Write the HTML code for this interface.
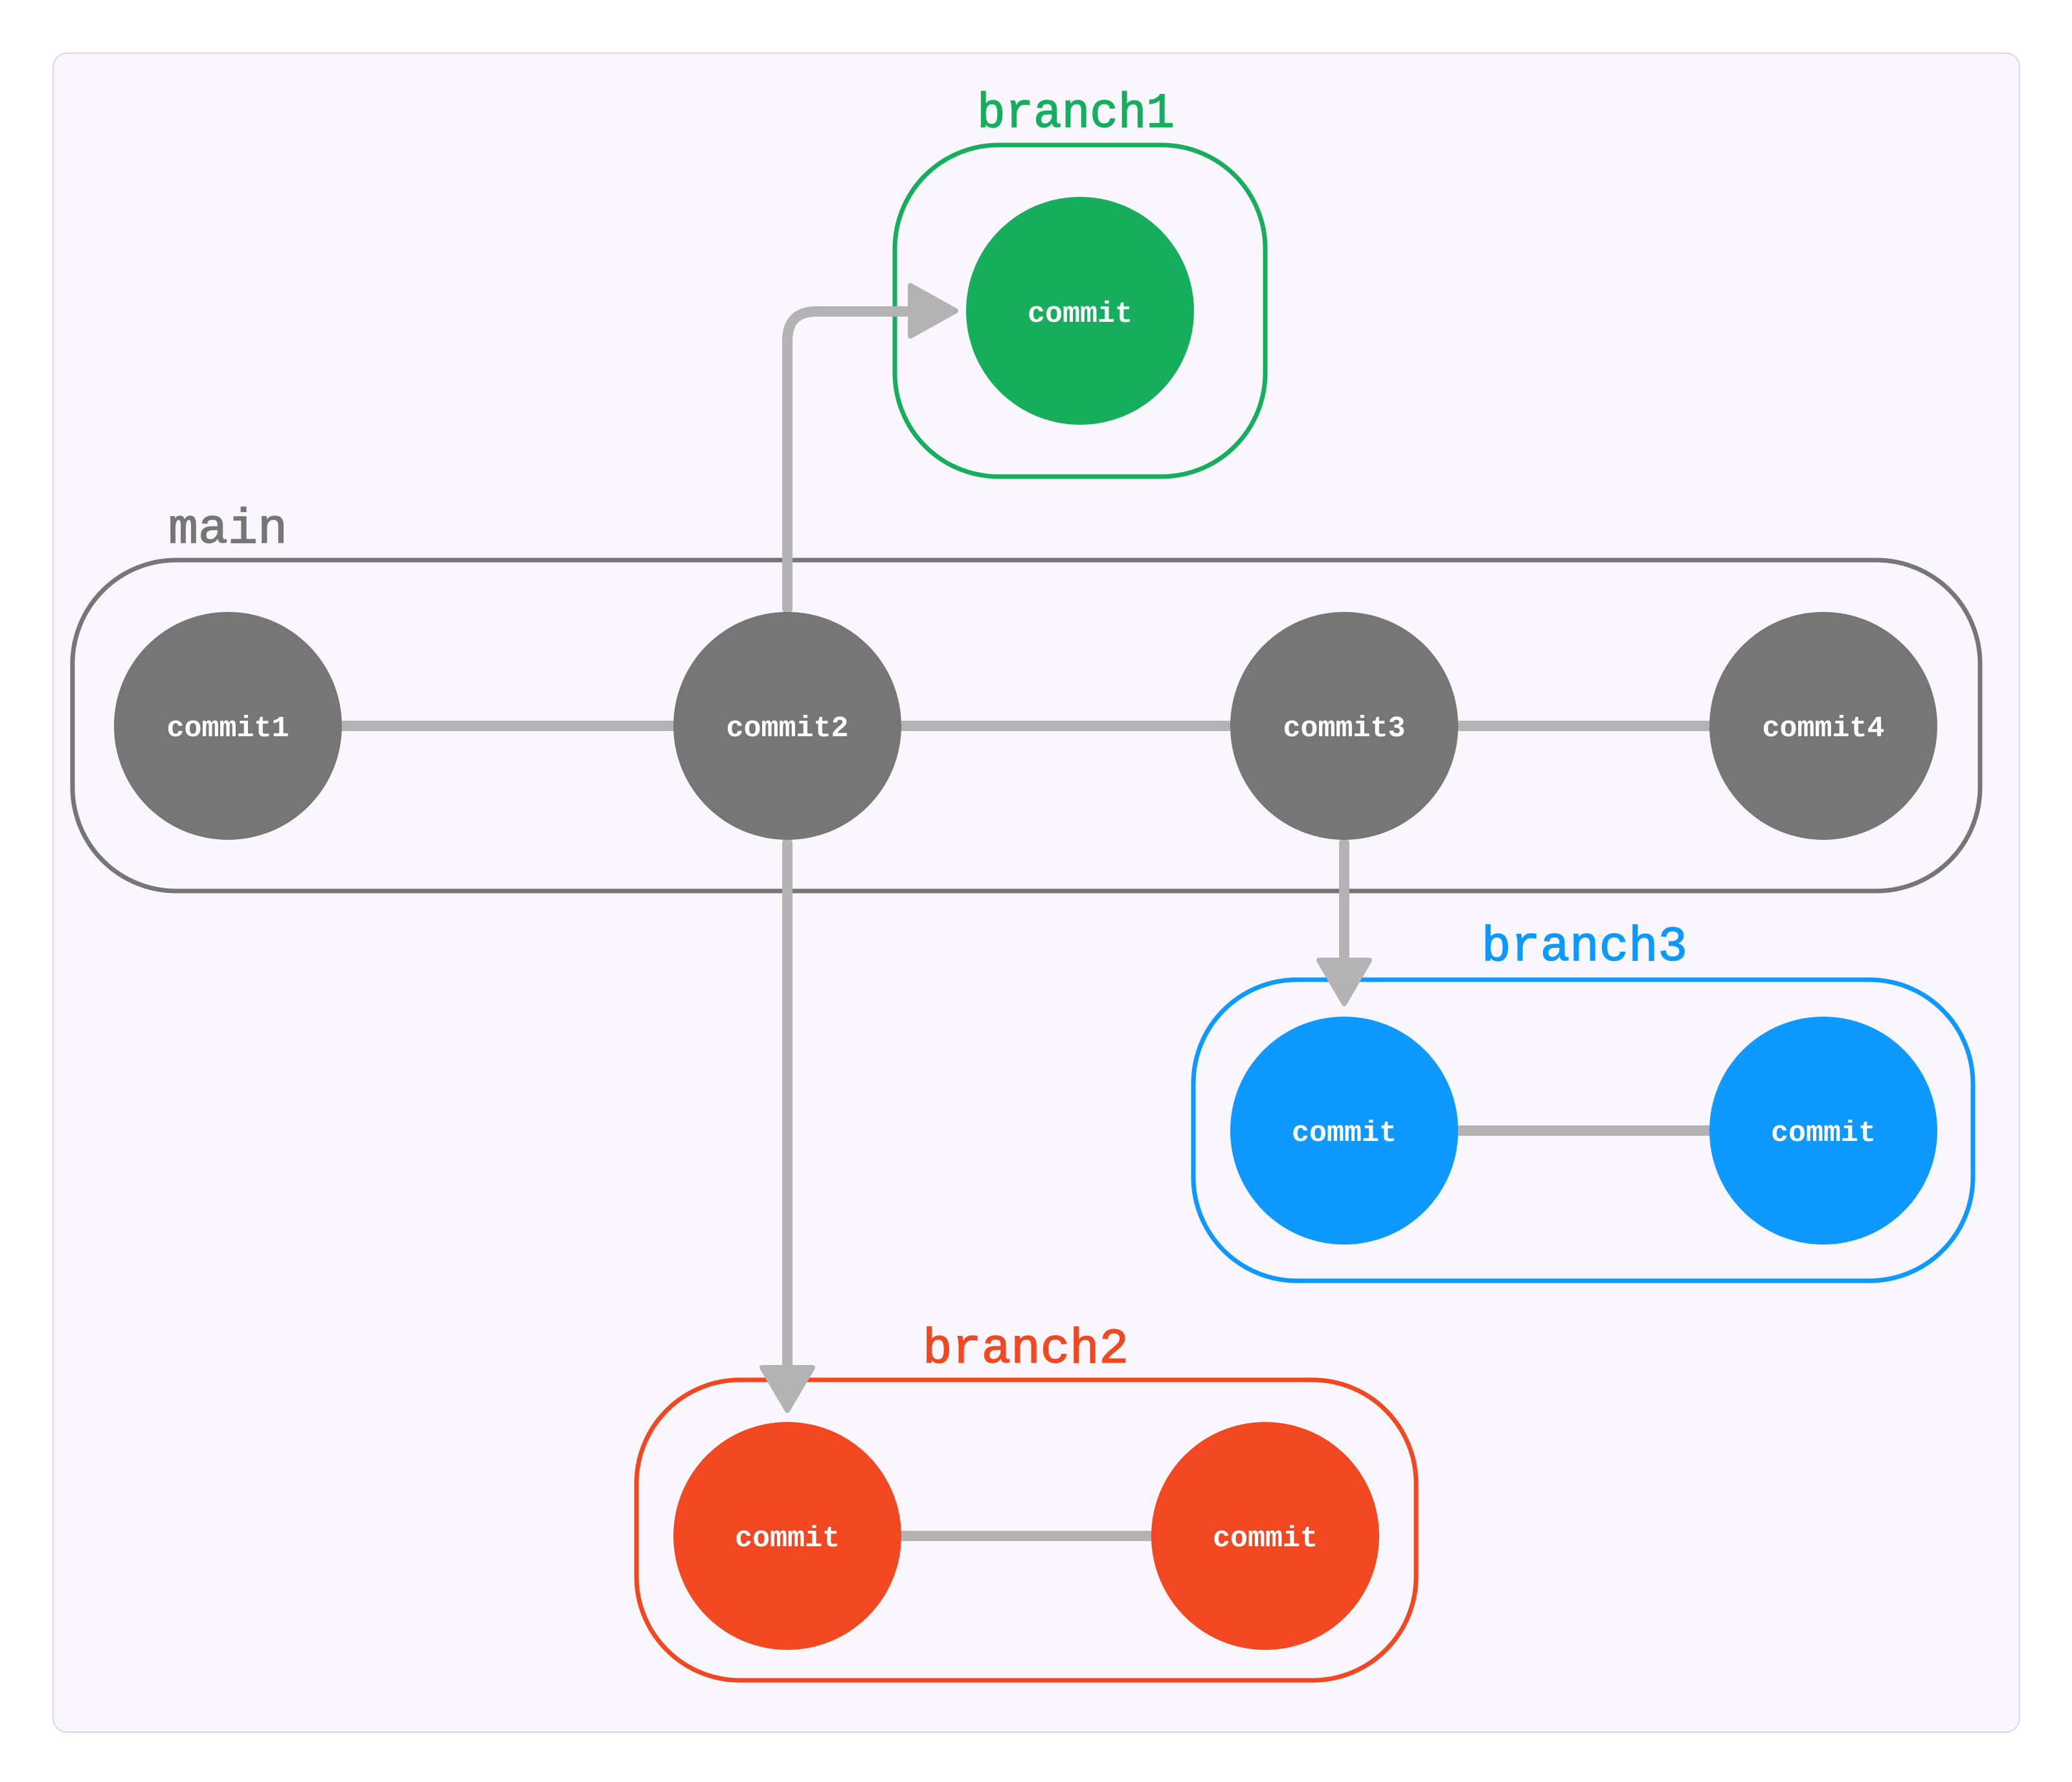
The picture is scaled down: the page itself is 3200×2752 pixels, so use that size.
<!DOCTYPE html>
<html><head><meta charset="utf-8"><style>html,body{margin:0;padding:0;background:#fff}svg{display:block}</style></head>
<body>
<svg width="3200" height="2752" viewBox="0 0 3200 2752" xmlns="http://www.w3.org/2000/svg">
<rect x="82" y="82" width="3037" height="2593" rx="22" fill="#f9f7fd" stroke="#ddd2f5" stroke-width="2"/>
<g font-family="'Liberation Mono', monospace">
<rect x="112" y="865" width="2946" height="511" rx="160" fill="none" stroke="#767676" stroke-width="7"/>
<text x="260" y="838" font-size="76" fill="#767676" stroke="#767676" stroke-width="1.5" textLength="184" lengthAdjust="spacingAndGlyphs">main</text>
<rect x="1382" y="224" width="572" height="512" rx="160" fill="none" stroke="#16ae5c" stroke-width="7"/>
<text x="1509" y="196" font-size="76" fill="#16ae5c" stroke="#16ae5c" stroke-width="1.5" textLength="305" lengthAdjust="spacingAndGlyphs">branch1</text>
<rect x="1843" y="1513" width="1204" height="465" rx="160" fill="none" stroke="#0d99ff" stroke-width="7"/>
<text x="2288" y="1483" font-size="76" fill="#0d99ff" stroke="#0d99ff" stroke-width="1.5" textLength="318" lengthAdjust="spacingAndGlyphs">branch3</text>
<rect x="983" y="2131" width="1204" height="464" rx="160" fill="none" stroke="#f24822" stroke-width="7"/>
<text x="1425" y="2104" font-size="76" fill="#f24822" stroke="#f24822" stroke-width="1.5" textLength="318" lengthAdjust="spacingAndGlyphs">branch2</text>

<g stroke="#b3b3b3" stroke-width="16" stroke-linecap="round" fill="none">
<line x1="530" y1="1121" x2="1038" y2="1121"/>
<line x1="1395" y1="1121" x2="1897" y2="1121"/>
<line x1="2254" y1="1121" x2="2638" y2="1121"/>
<line x1="2254" y1="1746" x2="2638" y2="1746"/>
<line x1="1395" y1="2372" x2="1776" y2="2372"/>
<path d="M1216 940 V526 Q1216 481 1261 481 H1410"/>
<line x1="1216" y1="1302" x2="1216" y2="2115"/>
<line x1="2076" y1="1302" x2="2076" y2="1485"/>
</g>
<g fill="#b3b3b3" stroke="#b3b3b3" stroke-width="8" stroke-linejoin="round">
<polygon points="1406,441 1476,480 1406,519"/>
<polygon points="1177,2112 1255,2112 1216,2178"/>
<polygon points="2037,1483 2115,1483 2076,1550"/>
</g>

<circle cx="352" cy="1121" r="176" fill="#767676"/>
<circle cx="1216" cy="1121" r="176" fill="#767676"/>
<circle cx="2076" cy="1121" r="176" fill="#767676"/>
<circle cx="2816" cy="1121" r="176" fill="#767676"/>
<circle cx="1668" cy="480" r="176" fill="#16ae5c"/>
<circle cx="2076" cy="1746" r="176" fill="#0d99ff"/>
<circle cx="2816" cy="1746" r="176" fill="#0d99ff"/>
<circle cx="1216" cy="2372" r="176" fill="#f24822"/>
<circle cx="1954" cy="2372" r="176" fill="#f24822"/>

<g fill="#ffffff" font-size="45" font-weight="bold" text-anchor="middle">
<text x="352" y="1137">commit1</text>
<text x="1216" y="1137">commit2</text>
<text x="2076" y="1137">commit3</text>
<text x="2816" y="1137">commit4</text>
<text x="1668" y="497">commit</text>
<text x="2076" y="1762">commit</text>
<text x="2816" y="1762">commit</text>
<text x="1216" y="2388">commit</text>
<text x="1954" y="2388">commit</text>
</g>
</g>
</svg>
</body></html>
